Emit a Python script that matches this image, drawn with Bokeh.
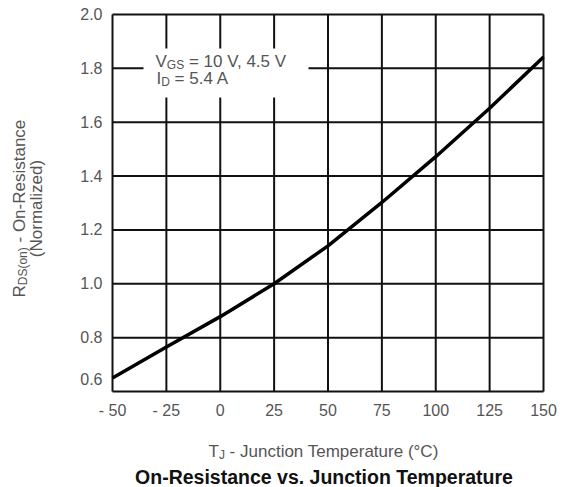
import math
from bokeh.plotting import figure
from bokeh.models import Range1d, FixedTicker, Label, BoxAnnotation
from bokeh.embed import file_html
from bokeh.resources import INLINE

# ---- data ----
temp_c = [-50, -25, 0, 25, 50, 75, 100, 125, 150]
rds_norm = [0.65, 0.765, 0.878, 1.0, 1.141, 1.302, 1.472, 1.652, 1.842]

x_ticks = [-50, -25, 0, 25, 50, 75, 100, 125, 150]
x_tick_labels = ["- 50", "- 25", "0", "25", "50", "75", "100", "125", "150"]
y_ticks = [0.6, 0.8, 1.0, 1.2, 1.4, 1.6, 1.8, 2.0]
y_tick_labels = ["0.6", "0.8", "1.0", "1.2", "1.4", "1.6", "1.8", "2.0"]

title_text = "On-Resistance vs. Junction Temperature"
cond_line1 = ("V", "GS", " = 10 V, 4.5 V")
cond_line2 = ("I", "D", " = 5.4 A")
xlabel_parts = ("T", "J", " - Junction Temperature (°C)")
ylabel_parts = ("R", "DS(on)", " - On-Resistance")
ylabel_line2 = "(Normalized)"

FONT = "Liberation Sans"
GRAY = "#555555"
INK = "#111111"

# Arial / Liberation Sans advance widths (per em) for laying out sub-scripted pieces
AW = {' ': .278, '=': .584, ',': .278, '.': .278, '-': .333, '(': .333, ')': .333, '°': .4,
      'V': .667, 'G': .778, 'S': .667, 'I': .278, 'D': .722, 'A': .667, 'R': .722, 'O': .778,
      'N': .722, 'T': .611, 'J': .5, 'C': .722,
      'o': .556, 'n': .556, 'e': .556, 's': .5, 'i': .222, 't': .278, 'a': .556, 'c': .5,
      'r': .333, 'm': .833, 'l': .222, 'z': .5, 'd': .556, 'u': .556, 'p': .556}
for d in "0123456789":
    AW[d] = .556


def tw(s, size):
    return sum(AW.get(ch, .556) for ch in s) * size


W, H = 563, 487
# pixel box of the chart area inside the canvas
PL, PR, PT, PB = 112, 543, 14, 391
X0, X1 = x_ticks[0], x_ticks[-1]
Y0, Y1 = y_ticks[0], y_ticks[-1]
kx = (PR - PL) / (X1 - X0)
ky = (PB - PT) / (Y1 - Y0)
x_range = Range1d(X0 - PL / kx, X1 + (W - PR) / kx)
y_range = Range1d(Y0 - (H - PB) / ky, Y1 + PT / ky)

p = figure(width=W, height=H, output_backend="svg", toolbar_location=None,
           x_range=x_range, y_range=y_range)
p.min_border = 0
p.min_border_left = p.min_border_right = p.min_border_top = p.min_border_bottom = 0
p.background_fill_color = "white"
p.border_fill_color = "white"
p.outline_line_color = None
p.grid.visible = False

# real axes, pinned to the edges of the chart area
p.xaxis.fixed_location = Y0
p.yaxis.fixed_location = X0
p.xaxis.bounds = (X0, X1)
p.yaxis.bounds = (Y0, Y1)
p.xaxis.ticker = FixedTicker(ticks=x_ticks)
p.yaxis.ticker = FixedTicker(ticks=y_ticks)
p.xaxis.major_label_overrides = dict(zip(x_ticks, x_tick_labels))
yo = dict(zip(y_ticks, y_tick_labels))
yo[y_ticks[0]] = " "
p.yaxis.major_label_overrides = yo
for ax in (p.xaxis, p.yaxis):
    ax.axis_line_color = None
    ax.major_tick_line_color = None
    ax.minor_tick_line_color = None
    ax.major_tick_out = 0
    ax.major_tick_in = 0
    ax.major_label_text_font = FONT
    ax.major_label_text_font_size = "16px"
    ax.major_label_text_color = GRAY
p.xaxis.major_label_standoff = 10
p.yaxis.major_label_standoff = 10

# grid lines (including the frame) at the tick values
p.segment(x0=x_ticks, y0=[Y0] * len(x_ticks), x1=x_ticks, y1=[Y1] * len(x_ticks),
          line_color=INK, line_width=2)
p.segment(x0=[X0] * len(y_ticks), y0=y_ticks, x1=[X1] * len(y_ticks), y1=y_ticks,
          line_color=INK, line_width=2)

p.line(temp_c, rds_norm, line_color="black", line_width=3.5)

LIFT = 6.5  # correction between intended and rendered baseline


def lab(text, px, py, size, color=GRAY, angle=0.0, bold=False, align="left", baseline="alphabetic"):
    # px, py: canvas pixels from the top-left corner (baseline start of the text)
    px -= LIFT * math.sin(angle)
    py -= LIFT * math.cos(angle)
    lead = len(text) - len(text.lstrip(" "))
    if lead:
        shift = tw(" " * lead, size)
        px += shift * math.cos(angle)
        py -= shift * math.sin(angle)
        text = text.lstrip(" ")
    p.add_layout(Label(x=px, y=H - py, x_units="screen", y_units="screen",
                       text=text, text_font=FONT, text_font_size=f"{size}px",
                       text_color=color, angle=angle, text_align=align,
                       text_baseline=baseline,
                       text_font_style="bold" if bold else "normal"))


# 0.6 tick label, lifted as in the reference
p.add_layout(Label(x=X0, y=Y0, text=y_tick_labels[0], text_font=FONT, text_font_size="16px",
                   text_color=GRAY, text_align="right", text_baseline="middle",
                   x_offset=-10, y_offset=13))

# white box behind the conditions text
p.add_layout(BoxAnnotation(left=143, right=308, top=H - 48, bottom=H - 97,
                           left_units="screen", right_units="screen",
                           top_units="screen", bottom_units="screen",
                           fill_color="white", fill_alpha=1.0, line_color=None))

MS, SS = 17, 12

# conditions text
x0 = 155
lab(cond_line1[0], x0, 67, MS)
x1 = x0 + tw(cond_line1[0], MS)
lab(cond_line1[1], x1, 71, SS)
x2 = x1 + tw(cond_line1[1], SS)
lab(cond_line1[2], x2, 67, MS)

x0 = 156
lab(cond_line2[0], x0, 84, MS)
x1 = x0 + tw(cond_line2[0], MS)
lab(cond_line2[1], x1, 88, SS)
x2 = x1 + tw(cond_line2[1], SS)
lab(cond_line2[2], x2, 84, MS)

# x axis label
x0 = 208
lab(xlabel_parts[0], x0, 457, MS)
x1 = x0 + tw(xlabel_parts[0], MS)
lab(xlabel_parts[1], x1, 461, SS)
x2 = x1 + tw(xlabel_parts[1], SS)
lab(xlabel_parts[2], x2, 457, MS)

# y axis label (rotated, reads bottom to top)
A = math.pi / 2
y0 = 297
lab(ylabel_parts[0], 25, y0, MS, angle=A)
y1 = y0 - tw(ylabel_parts[0], MS)
lab(ylabel_parts[1], 29, y1, SS, angle=A)
y2 = y1 - tw(ylabel_parts[1], SS)
lab(ylabel_parts[2], 25, y2, MS, angle=A)
lab(ylabel_line2, 42, 208, MS, angle=A, align="center")

# bottom title
lab(title_text, 323.5, 483, 19.5, color=INK, bold=True, align="center")

open("out.html", "w").write(file_html(p, INLINE))
